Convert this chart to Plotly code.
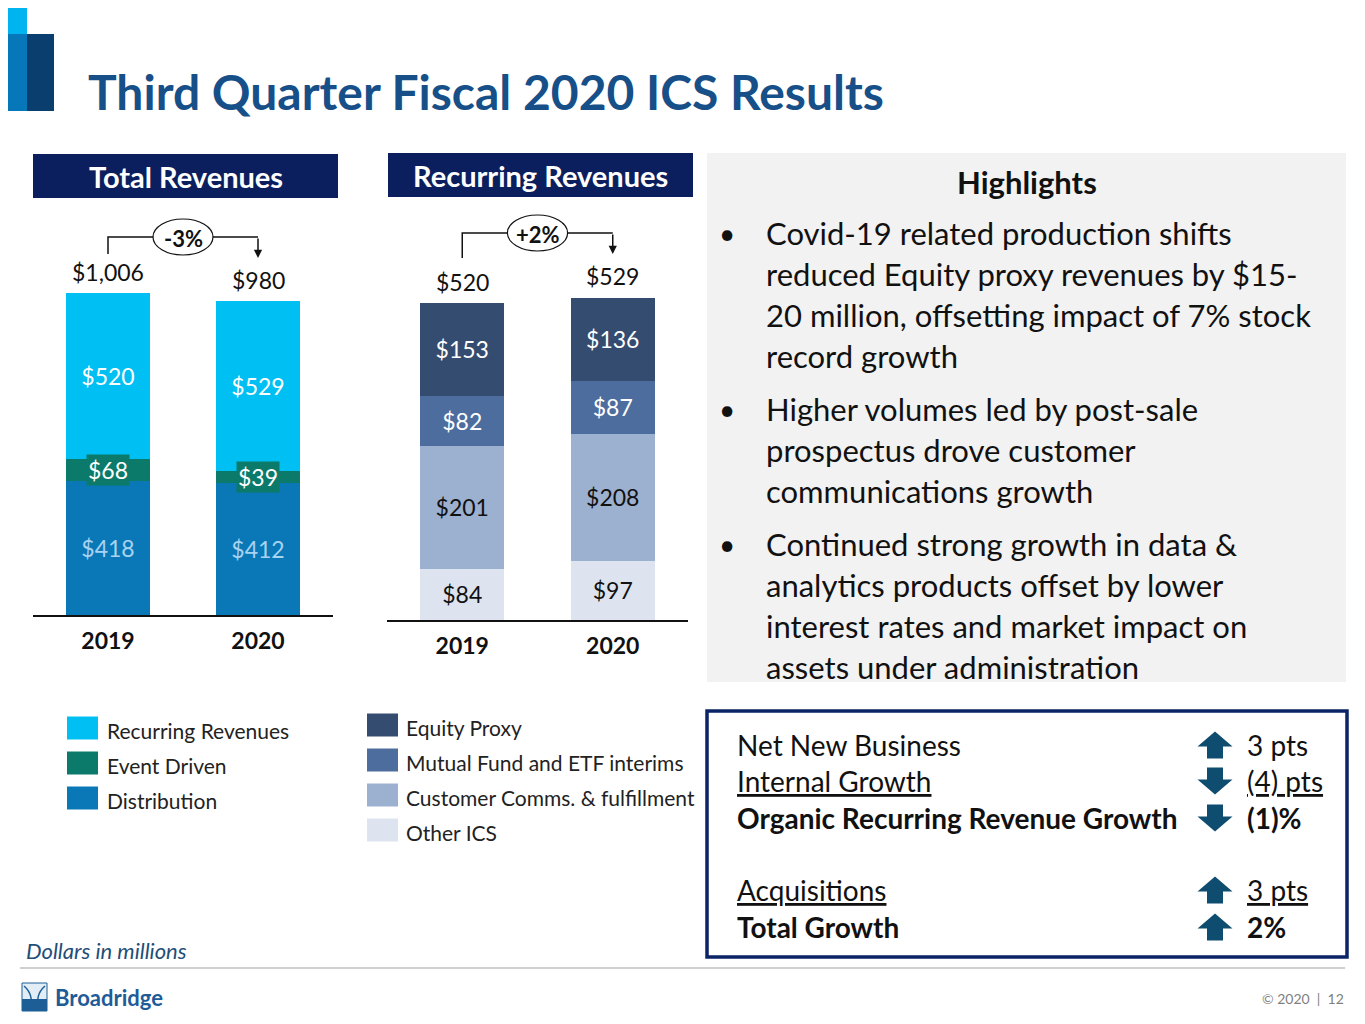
import plotly.graph_objects as go

# page body keeps an 8px margin, so the figure is drawn 8px in from the corner
PAGE_W, PAGE_H, OFF = 1365, 1024, 8
W, H = PAGE_W - OFF, PAGE_H - OFF

# ---- data (dollars in millions) ----
years = ["2019", "2020"]

distribution = [418, 412]
event_driven = [68, 39]
recurring = [520, 529]
total_revenues = [1006, 980]
total_change = "-3%"

other_ics = [84, 97]
customer_comms = [201, 208]
mutual_fund = [82, 87]
equity_proxy = [153, 136]
recurring_total = [520, 529]
recurring_change = "+2%"

highlights = [
    ["Covid-19 related production shifts",
     "reduced Equity proxy revenues by $15-",
     "20 million, offsetting impact of 7% stock",
     "record growth"],
    ["Higher volumes led by post-sale",
     "prospectus drove customer",
     "communications growth"],
    ["Continued strong growth in data &",
     "analytics products offset by lower",
     "interest rates and market impact on",
     "assets under administration"],
]

growth_labels = ["Net New Business", "<u>Internal Growth</u>", "<b>Organic Recurring Revenue Growth</b>",
                 "<u>Acquisitions</u>", "<b>Total Growth</b>"]
growth_dirs = ["up", "down", "down", "up", "up"]
growth_values = ["3 pts", "<u>(4) pts</u>", "<b>(1)%</b>", "<u>3 pts</u>", "<b>2%</b>"]

# ---- styles ----
FONT = "Lato"
NAVY = "#0b1f5e"
C_REC = "#00bff3"
C_EVT = "#0b7a6a"
C_DIST = "#0a78b6"
C_EQ = "#354c71"
C_MF = "#4c6d9d"
C_CC = "#9cb0d0"
C_OTH = "#dde4ef"
ARROW = "#0f4d70"


def px(x):
    return (x - OFF) / W


def py(y):
    return 1 - (y - OFF) / H


def label(x, y, s, size, color="#111", anchor="left", **kw):
    return dict(x=px(x), y=py(y), xref="paper", yref="paper", xanchor=anchor, yanchor="middle",
                showarrow=False, text=s, font=dict(size=size, color=color), **kw)


fig = go.Figure()

# --- Total revenues chart ---
fig.add_trace(go.Bar(x=years, y=distribution, marker_color=C_DIST, name="Distribution",
                     text=[f"${v}" for v in distribution], textfont=dict(color="#a8d3f1", size=23, family=FONT)))
fig.add_trace(go.Bar(x=years, y=event_driven, marker_color=C_EVT, name="Event Driven"))
fig.add_trace(go.Bar(x=years, y=recurring, marker_color=C_REC, name="Recurring Revenues",
                     text=[f"${v}" for v in recurring], textfont=dict(color="white", size=23, family=FONT)))

# --- Recurring revenues chart ---
for vals, col, name, tcol in [(other_ics, C_OTH, "Other ICS", "#111"),
                              (customer_comms, C_CC, "Customer Comms. & fulfillment", "#111"),
                              (mutual_fund, C_MF, "Mutual Fund and ETF interims", "white"),
                              (equity_proxy, C_EQ, "Equity Proxy", "white")]:
    fig.add_trace(go.Bar(x=years, y=vals, marker_color=col, name=name, xaxis="x2", yaxis="y2",
                         text=[f"${v}" for v in vals], textfont=dict(color=tcol, size=23, family=FONT)))

fig.update_traces(textposition="inside", insidetextanchor="middle", textangle=0,
                  marker_line_width=0, hoverinfo="skip", showlegend=False,
                  selector=dict(type="bar"))
fig.update_traces(textposition="none", selector=dict(name="Event Driven"))

shapes = []
ann = []

# totals above bars
for xa, ya, totals in [("x", "y", total_revenues), ("x2", "y2", recurring_total)]:
    for i, t in enumerate(totals):
        ann.append(dict(x=i, y=t, xref=xa, yref=ya, text=f"${t:,}", showarrow=False,
                        xanchor="center", yanchor="bottom", yshift=5, font=dict(size=23, color="#111")))

# event driven labels with their own box
for i, (d, e) in enumerate(zip(distribution, event_driven)):
    ann.append(dict(x=i, y=d + e / 2, xref="x", yref="y", text=f"${e}", showarrow=False,
                    xanchor="center", yanchor="middle", bgcolor=C_EVT, borderpad=1,
                    font=dict(size=23, color="white")))

# growth brackets
for xa, y_left, y_line, y_tip, txt in [("x", 254, 237, 258, total_change),
                                       ("x2", 258, 233, 254, recurring_change)]:
    shapes.append(dict(type="path", xref=xa, yref="paper",
                       path=f"M 0,{py(y_left)} L 0,{py(y_line)} L 1,{py(y_line)}",
                       line=dict(color="#111", width=1.5)))
    shapes.append(dict(type="circle", xref=xa, yref="paper", x0=0.5 - 0.2, x1=0.5 + 0.2,
                       y0=py(y_line + 18), y1=py(y_line - 18), fillcolor="white",
                       line=dict(color="#111", width=1.2)))
    ann.append(dict(x=0.5, y=py(y_line + 1), xref=xa, yref="paper", text=f"<b>{txt}</b>", showarrow=False,
                    xanchor="center", yanchor="middle", font=dict(size=22, color="#111")))
    ann.append(dict(x=1, y=py(y_tip), xref=xa, yref="paper", text="", showarrow=True,
                    ax=0, ay=-(y_tip - y_line), arrowhead=2, arrowsize=1.1, arrowwidth=1.5,
                    arrowcolor="#111", standoff=0))

# top-left corner blocks
shapes += [
    dict(type="rect", xref="paper", yref="paper", x0=px(0), x1=px(27), y0=py(34), y1=py(0),
         fillcolor="#00b4f0", line_width=0),
    dict(type="rect", xref="paper", yref="paper", x0=px(0), x1=px(27), y0=py(111), y1=py(34),
         fillcolor="#0677b8", line_width=0),
    dict(type="rect", xref="paper", yref="paper", x0=px(27), x1=px(54), y0=py(111), y1=py(34),
         fillcolor="#0a3e6e", line_width=0),
]
ann.append(label(86, 92, "<b>Third Quarter Fiscal 2020 ICS Results</b>", 48, "#174f88"))

# section headers
for x0, x1, y0, y1, txt in [(33, 338, 154, 198, "Total Revenues"), (388, 693, 153, 197, "Recurring Revenues")]:
    shapes.append(dict(type="rect", xref="paper", yref="paper", x0=px(x0), x1=px(x1), y0=py(y1), y1=py(y0),
                       fillcolor=NAVY, line_width=0))
    ann.append(label((x0 + x1) / 2, (y0 + y1) / 2, f"<b>{txt}</b>", 29, "white", "center"))

# highlights panel
shapes.append(dict(type="rect", xref="paper", yref="paper", x0=px(707), x1=px(1346), y0=py(682), y1=py(153),
                   fillcolor="#f2f2f2", line_width=0, layer="below"))
ann.append(label(1027, 182, "<b>Highlights</b>", 31, anchor="center"))
line_y = 233
for bullet in highlights:
    ann.append(label(727, line_y, "•", 28, anchor="center"))
    for ln in bullet:
        ann.append(label(764, line_y, ln, 31))
        line_y += 41
    line_y += 12

# growth box
shapes.append(dict(type="rect", xref="paper", yref="paper", x0=px(707), x1=px(1347), y0=py(957), y1=py(711),
                   fillcolor="white", line=dict(color="#0a2466", width=3.5)))
row_y = [745, 781, 818, 890, 927]
for yy, lab, d, val in zip(row_y, growth_labels, growth_dirs, growth_values):
    ann.append(label(735, yy, lab, 28))
    ann.append(label(1245, yy, val, 28))
    cx = 1215
    s = 1 if d == "up" else -1
    pts = [(cx, yy - 13.5 * s), (cx + 17.5, yy + 1.5 * s), (cx + 8, yy + 1.5 * s), (cx + 8, yy + 13.5 * s),
           (cx - 8, yy + 13.5 * s), (cx - 8, yy + 1.5 * s), (cx - 17.5, yy + 1.5 * s)]
    path = "M " + " L ".join(f"{px(a)},{py(b)}" for a, b in pts) + " Z"
    shapes.append(dict(type="path", xref="paper", yref="paper", path=path, fillcolor=ARROW, line_width=0))

# legends
for i, (col, name) in enumerate([(C_REC, "Recurring Revenues"), (C_EVT, "Event Driven"), (C_DIST, "Distribution")]):
    yy = 728 + 35 * i
    shapes.append(dict(type="rect", xref="paper", yref="paper", x0=px(67), x1=px(98), y0=py(yy + 11.5),
                       y1=py(yy - 11.5), fillcolor=col, line_width=0))
    ann.append(label(105, yy + 2, name, 21, "#222"))
for i, (col, name) in enumerate([(C_EQ, "Equity Proxy"), (C_MF, "Mutual Fund and ETF interims"),
                                 (C_CC, "Customer Comms. & fulfillment"), (C_OTH, "Other ICS")]):
    yy = 725 + 35 * i
    shapes.append(dict(type="rect", xref="paper", yref="paper", x0=px(367), x1=px(398), y0=py(yy + 11.5),
                       y1=py(yy - 11.5), fillcolor=col, line_width=0))
    ann.append(label(404, yy + 2, name, 21, "#222"))

# footer
ann.append(label(24, 950, "<i>Dollars in millions</i>", 22, "#1f4e79"))
shapes.append(dict(type="line", xref="paper", yref="paper", x0=px(20), x1=px(1345), y0=py(968), y1=py(968),
                   line=dict(color="#c0c0c0", width=1.5)))
shapes += [
    dict(type="rect", xref="paper", yref="paper", x0=px(22), x1=px(47), y0=py(1011), y1=py(983),
         fillcolor="#e3edf6", line=dict(color="#1d5e97", width=1)),
    dict(type="rect", xref="paper", yref="paper", x0=px(22), x1=px(47), y0=py(1011), y1=py(999),
         fillcolor="#1d5e97", line_width=0),
    dict(type="path", xref="paper", yref="paper",
         path=f"M {px(24)},{py(986)} Q {px(34.5)},{py(995)} {px(30)},{py(1010)} "
              f"M {px(45)},{py(986)} Q {px(34.5)},{py(995)} {px(39)},{py(1010)}",
         line=dict(color="#1d5e97", width=1.5)),
]
ann.append(label(53, 997, "<b>Broadridge</b>", 22, "#1d5c96"))
ann.append(label(1346, 998, "© 2020  |  12", 14, "#7f7f7f", "right"))

axis_x = dict(type="category", showline=True, linecolor="#111", linewidth=1.5, ticks="outside", ticklen=5,
              tickcolor="rgba(0,0,0,0)", tickfont=dict(size=23, color="#111", family=FONT, weight="bold"),
              showgrid=False, zeroline=False, range=[-0.5, 1.5], fixedrange=True)
axis_y = dict(visible=False, showgrid=False, zeroline=False, fixedrange=True)

fig.update_layout(
    width=W, height=H, margin=dict(l=0, r=0, t=0, b=0),
    paper_bgcolor="white", plot_bgcolor="rgba(0,0,0,0)",
    font=dict(family=FONT, color="#111"),
    barmode="stack", bargap=0.445,
    xaxis=dict(axis_x, domain=[px(33), px(333)], anchor="y"),
    yaxis=dict(axis_y, domain=[py(615), py(200)], range=[0, (615 - 200) / 0.32]),
    xaxis2=dict(axis_x, domain=[px(387), px(688)], anchor="y2"),
    yaxis2=dict(axis_y, domain=[py(620), py(200)], range=[0, (620 - 200) / 0.61]),
    shapes=shapes, annotations=ann, showlegend=False,
)

fig.write_html("out.html")
